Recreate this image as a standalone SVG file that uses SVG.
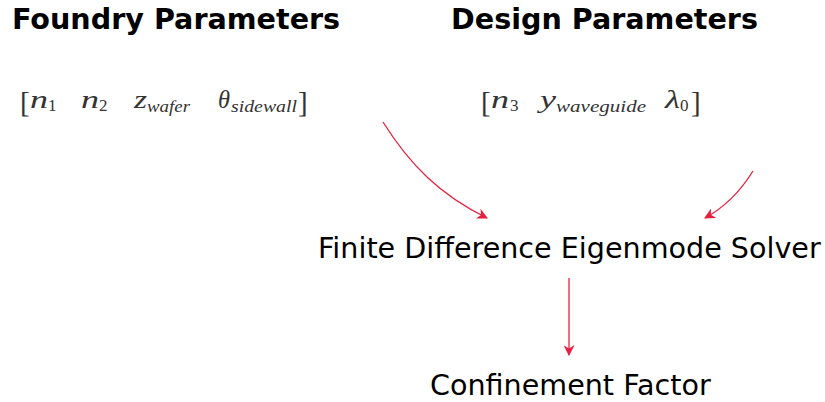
<svg xmlns="http://www.w3.org/2000/svg" width="825" height="402" viewBox="0 0 825 402">
<style>
.title{font-family:"DejaVu Sans",sans-serif;font-weight:bold;font-size:28.6px;fill:#000}
.lbl{font-family:"DejaVu Sans",sans-serif;font-size:28.6px;fill:#000}
.m{font-family:"Liberation Serif",serif;font-size:25px;fill:#333;font-style:italic}
.s{font-family:"Liberation Serif",serif;font-size:17px;fill:#333}
.si{font-family:"Liberation Serif",serif;font-size:17px;fill:#333;font-style:italic}
.br{font-family:"Liberation Serif",serif;font-size:29px;fill:#333}
.edge{fill:none;stroke:#e8203f;stroke-width:1.3}
</style>
<defs>
<marker id="ah" viewBox="0 0 10 10" refX="9" refY="5" markerWidth="11" markerHeight="11" markerUnits="userSpaceOnUse" orient="auto">
<path d="M0,0 L10,5 L0,10 L3,5 Z" fill="#e8203f"/>
</marker>
</defs>
<g id="foundry">
<text class="title" x="12" y="29">Foundry Parameters</text>
<text class="br" x="20" y="112">[</text>
<text class="m" x="30" y="108" textLength="18" lengthAdjust="spacingAndGlyphs">n</text>
<text class="s" x="48" y="111">1</text>
<text class="m" x="81" y="108" textLength="18" lengthAdjust="spacingAndGlyphs">n</text>
<text class="s" x="99" y="111">2</text>
<text class="m" x="134" y="108" textLength="13" lengthAdjust="spacingAndGlyphs">z</text>
<text class="si" x="147" y="112" textLength="43" lengthAdjust="spacingAndGlyphs">wafer</text>
<text class="m" x="218" y="108" textLength="12" lengthAdjust="spacingAndGlyphs">θ</text>
<text class="si" x="231" y="112" textLength="66" lengthAdjust="spacingAndGlyphs">sidewall</text>
<text class="br" x="298" y="112">]</text>
</g>
<g id="design">
<text class="title" x="451" y="29">Design Parameters</text>
<text class="br" x="481" y="112">[</text>
<text class="m" x="491" y="108" textLength="18" lengthAdjust="spacingAndGlyphs">n</text>
<text class="s" x="510" y="111">3</text>
<text class="m" x="540" y="108" textLength="16" lengthAdjust="spacingAndGlyphs">y</text>
<text class="si" x="556" y="112" textLength="90" lengthAdjust="spacingAndGlyphs">waveguide</text>
<text class="m" x="665" y="108" textLength="15" lengthAdjust="spacingAndGlyphs">λ</text>
<text class="s" x="680" y="111">0</text>
<text class="br" x="691" y="112">]</text>
</g>
<g id="solver">
<text class="lbl" x="318" y="258">Finite Difference Eigenmode Solver</text>
</g>
<g id="confinement">
<text class="lbl" x="430" y="395">Confinement Factor</text>
</g>
<g id="connectors">
<path class="edge" d="M383,122 C410,165 440,195 487,218" marker-end="url(#ah)"/>
<path class="edge" d="M753,171 C740,192 725,207 705,218" marker-end="url(#ah)"/>
<path class="edge" d="M569,278 L569,355" marker-end="url(#ah)"/>
</g>
</svg>
